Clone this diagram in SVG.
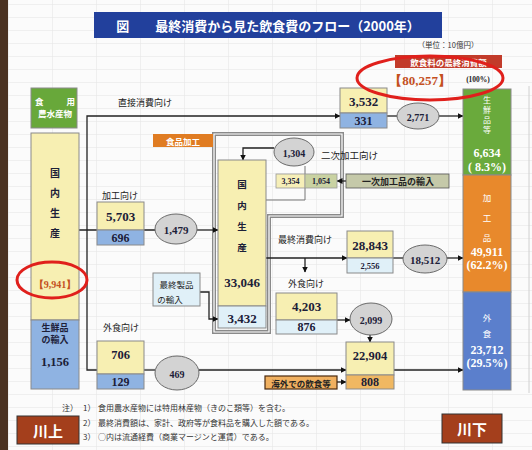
<svg xmlns="http://www.w3.org/2000/svg" width="532" height="450" viewBox="0 0 532 450">
<style>
.jp{font-family:"Noto Sans CJK JP","Noto Sans",sans-serif;}
.num{font-family:"Liberation Serif","DejaVu Serif",serif;font-weight:bold;}
.c{text-anchor:middle;dominant-baseline:central;}
.box{stroke:#8a8a8a;stroke-width:1;}
.yel{fill:#f7efb2;}
.blu{fill:#8fb3e2;}
.lbl{fill:#e0f0f8;}
.ell{fill:#d3d3d3;stroke:#6a6a6a;stroke-width:1;}
.ln{fill:none;stroke:#222;stroke-width:1.3;}
.arr{marker-end:url(#ah);}
.dk{fill:#1c2038;}
.wh{fill:#ffffff;}
</style>
<defs>
<marker id="ah" markerWidth="6" markerHeight="6" refX="5.5" refY="3" orient="auto" markerUnits="userSpaceOnUse">
<path d="M0,0 L6,3 L0,6 z" fill="#111"/>
</marker>
<pattern id="grid" width="44" height="13" patternUnits="userSpaceOnUse" x="8" y="4">
<path d="M0,0 H44 M0,0 V13" fill="none" stroke="#e3e3e3" stroke-width="1"/>
</pattern>
</defs>

<rect width="532" height="450" fill="#fbfbfb"/>
<rect x="8" width="524" height="450" fill="url(#grid)"/>
<rect x="0" y="0" width="8" height="450" fill="#4a3222"/>
<line x1="529" y1="86" x2="529" y2="393" stroke="#d0d0d0" stroke-width="1"/>

<g id="title">
<rect x="94" y="12" width="348" height="26" fill="#22409c"/>
<text x="268" y="25" class="jp c" font-size="13" font-weight="bold" fill="#fff">図　　最終消費から見た飲食費のフロー（2000年）</text>
</g>
<g id="unit"><text x="448" y="44" class="jp c" font-size="7.5" fill="#333">（単位：10億円）</text></g>

<!-- processing frame -->
<g id="frame">
<path d="M214,134 L342,134 L342,216 L269,216 L269,332 L214,332 Z" fill="none" stroke="#8a8a8a" stroke-width="4"/>
<path d="M214,134 L342,134 L342,216 L269,216 L269,332 L214,332 Z" fill="none" stroke="#ffffff" stroke-width="1.2"/>
</g>

<!-- connectors -->
<g id="connectors">
<path class="ln arr" d="M97,370 L87,370 L87,116 L340,116"/>
<path class="ln" d="M387,116 L397,116"/>
<path class="ln arr" d="M439,116 L463,116"/>
<path class="ln" d="M79,230 L97,230 M144,230 L155,230"/>
<path class="ln arr" d="M197,230 L218,230"/>
<path fill="none" stroke="#777" stroke-width="1" d="M305,166 L305,200 L266,200"/>
<path class="ln arr" d="M274,148 L243,148 L243,160"/>
<path class="ln arr" d="M350,181 L337,181"/>
<path class="ln arr" d="M266,258 L347,258"/>
<path class="ln" d="M393,258 L403,258"/>
<path class="ln arr" d="M447,258 L463,258"/>
<path class="ln arr" d="M305,258 L305,272"/>
<path class="ln arr" d="M200,292 L209,292 L209,319 L218,319"/>
<path class="ln arr" d="M337,320 L350,320"/>
<path class="ln arr" d="M370,335 L370,342"/>
<path class="ln arr" d="M394,370 L463,370"/>
<path class="ln" d="M144,370 L155,370"/>
<path class="ln arr" d="M199,370 L346,370"/>
<path class="ln arr" d="M337,382 L346,382"/>
</g>

<!-- left column -->
<g id="n-food">
<rect x="31" y="88" width="46" height="40" fill="#68a83a" class="box"/>
<text x="35" y="101" class="jp" font-size="8.5" font-weight="bold" fill="#fff" dominant-baseline="central">食</text>
<text x="75" y="101" class="jp" font-size="8.5" font-weight="bold" fill="#fff" dominant-baseline="central" text-anchor="end">用</text>
<text x="55" y="113" class="jp c" font-size="8.5" font-weight="bold" fill="#fff">農水産物</text>
</g>
<g id="n-domestic">
<rect x="31" y="133" width="48" height="187" class="yel box"/>
<text x="55" y="172" class="jp c dk" font-size="10" font-weight="bold">国</text>
<text x="55" y="192" class="jp c dk" font-size="10" font-weight="bold">内</text>
<text x="55" y="212" class="jp c dk" font-size="10" font-weight="bold">生</text>
<text x="55" y="232" class="jp c dk" font-size="10" font-weight="bold">産</text>
<text x="55" y="284" class="num c" font-size="10" fill="#c4501e">【9,941】</text>
</g>
<g id="n-freshimport">
<rect x="31" y="320" width="48" height="69" class="blu box"/>
<text x="55" y="327" class="jp c dk" font-size="9" font-weight="bold">生鮮品</text>
<text x="55" y="339" class="jp c dk" font-size="9" font-weight="bold">の輸入</text>
<text x="55" y="362" class="num c dk" font-size="12.5">1,156</text>
</g>
<g id="n-upstream">
<rect x="17" y="416" width="62" height="28" fill="#a43f1c" stroke="#333" stroke-width="1"/>
<text x="48" y="430" class="jp c" font-size="15" font-weight="bold" fill="#fff">川上</text>
</g>

<!-- direct -->
<g id="n-direct">
<text x="145" y="102" class="jp c" font-size="9" fill="#222">直接消費向け</text>
<rect x="340" y="88" width="47" height="25" class="yel box"/>
<rect x="340" y="113" width="47" height="15" class="blu box"/>
<text x="363.5" y="101" class="num c dk" font-size="13">3,532</text>
<text x="363.5" y="121" class="num c dk" font-size="12">331</text>
</g>
<g id="e-2771"><ellipse cx="418" cy="116" rx="21" ry="13" class="ell"/><text x="418" y="117" class="num c dk" font-size="10">2,771</text></g>

<!-- processing branch -->
<g id="n-proc">
<text x="120" y="195" class="jp c" font-size="9" fill="#222">加工向け</text>
<rect x="97" y="202" width="47" height="28" class="yel box"/>
<rect x="97" y="230" width="47" height="15" class="blu box"/>
<text x="120.5" y="216" class="num c dk" font-size="13">5,703</text>
<text x="120.5" y="238" class="num c dk" font-size="12">696</text>
</g>
<g id="e-1479"><ellipse cx="176" cy="229" rx="21" ry="15" class="ell"/><text x="176" y="230" class="num c dk" font-size="11">1,479</text></g>

<g id="n-foodproc-label">
<rect x="153" y="134" width="60" height="13" fill="#e07c22"/>
<text x="183" y="140.5" class="jp c" font-size="8.5" font-weight="bold" fill="#fff">食品加工</text>
</g>
<g id="n-proc-domestic">
<rect x="218" y="160" width="48" height="146" class="yel box"/>
<rect x="218" y="306" width="48" height="22" class="lbl box"/>
<text x="242" y="184" class="jp c dk" font-size="9.5" font-weight="bold">国</text>
<text x="242" y="205" class="jp c dk" font-size="9.5" font-weight="bold">内</text>
<text x="242" y="226" class="jp c dk" font-size="9.5" font-weight="bold">生</text>
<text x="242" y="247" class="jp c dk" font-size="9.5" font-weight="bold">産</text>
<text x="242" y="282" class="num c dk" font-size="13">33,046</text>
<text x="242" y="318" class="num c dk" font-size="13">3,432</text>
</g>
<g id="n-finalimport">
<rect x="153" y="273" width="47" height="33" class="lbl box"/>
<text x="176.5" y="284" class="jp c" font-size="8.5" fill="#222">最終製品</text>
<text x="170" y="299" class="jp c" font-size="8.5" fill="#222">の輸入</text>
</g>
<g id="e-1304"><ellipse cx="294" cy="152" rx="20" ry="14" class="ell"/><text x="294" y="153" class="num c dk" font-size="10">1,304</text></g>
<g id="n-secondary">
<text x="321" y="155" class="jp" font-size="9.5" fill="#222" dominant-baseline="central">二次加工向け</text>
<rect x="276" y="174" width="29" height="14" fill="#f6efb8" stroke="#999" stroke-width="0.8"/>
<rect x="305" y="174" width="32" height="14" fill="#c9d2a2" stroke="#999" stroke-width="0.8"/>
<text x="290.5" y="181" class="num c dk" font-size="8">3,354</text>
<text x="321" y="181" class="num c dk" font-size="8">1,054</text>
</g>
<g id="n-primaryimport">
<rect x="346" y="174" width="103" height="14" fill="#c5c9a9" stroke="#555" stroke-width="0.8"/>
<text x="398" y="181" class="jp c" font-size="9" font-weight="bold" fill="#222">一次加工品の輸入</text>
</g>

<!-- final consumption branch -->
<g id="n-final">
<text x="305" y="239" class="jp c" font-size="9" fill="#222">最終消費向け</text>
<rect x="347" y="231" width="46" height="27" class="yel box"/>
<rect x="347" y="258" width="46" height="15" class="lbl box"/>
<text x="370" y="245" class="num c dk" font-size="13">28,843</text>
<text x="370" y="266" class="num c dk" font-size="8.5">2,556</text>
</g>
<g id="e-18512"><ellipse cx="425" cy="259" rx="22" ry="14" class="ell"/><text x="425" y="260" class="num c dk" font-size="11">18,512</text></g>

<g id="n-dining2">
<text x="306" y="283" class="jp c" font-size="9" fill="#222">外食向け</text>
<rect x="276" y="293" width="61" height="27" class="yel box"/>
<rect x="276" y="320" width="61" height="14" class="lbl box"/>
<text x="306.5" y="306" class="num c dk" font-size="13">4,203</text>
<text x="306.5" y="327" class="num c dk" font-size="12">876</text>
</g>
<g id="e-2099"><ellipse cx="371" cy="319" rx="21" ry="16" class="ell"/><text x="371" y="320" class="num c dk" font-size="10">2,099</text></g>

<!-- dining branch -->
<g id="n-dining">
<text x="121" y="327" class="jp c" font-size="9" fill="#222">外食向け</text>
<rect x="97" y="341" width="47" height="33" class="yel box"/>
<rect x="97" y="374" width="47" height="15" class="blu box"/>
<text x="120.5" y="355" class="num c dk" font-size="12.5">706</text>
<text x="120.5" y="382" class="num c dk" font-size="12">129</text>
</g>
<g id="e-469"><ellipse cx="177" cy="373" rx="22" ry="17" class="ell"/><text x="177" y="374" class="num c dk" font-size="10">469</text></g>
<g id="n-22904">
<rect x="346" y="342" width="48" height="33" class="yel box"/>
<rect x="346" y="375" width="48" height="14" fill="#f0b862" class="box"/>
<text x="370" y="356" class="num c dk" font-size="12.5">22,904</text>
<text x="370" y="382" class="num c dk" font-size="12">808</text>
</g>
<g id="n-overseas">
<rect x="265" y="376" width="72" height="13" fill="#f0b060" stroke="#4a2a10" stroke-width="1.2"/>
<text x="301" y="382.5" class="jp c" font-size="8.5" font-weight="bold" fill="#222">海外での飲食等</text>
</g>

<!-- right column -->
<g id="n-total">
<rect x="395" y="55" width="107" height="13" fill="#c23b2a"/>
<text x="448.5" y="61.5" class="jp c" font-size="8.5" font-weight="bold" fill="#fff">飲食料の最終消費額</text>
<text x="420" y="80" class="num c" font-size="13" fill="#c4501e">【80,257】</text>
<text x="478" y="79" class="num c" font-size="7.5" fill="#222">(100%)</text>
</g>
<g id="n-fresh">
<rect x="463" y="89" width="48" height="86" fill="#6aaa3c" class="box"/>
<text x="487" y="99" class="jp c wh" font-size="8">生</text>
<text x="487" y="109" class="jp c wh" font-size="8">鮮</text>
<text x="487" y="119" class="jp c wh" font-size="8">品</text>
<text x="487" y="129" class="jp c wh" font-size="8">等</text>
<text x="487" y="153" class="num c wh" font-size="12">6,634</text>
<text x="487" y="167" class="num c wh" font-size="12">( 8.3%)</text>
</g>
<g id="n-processed">
<rect x="463" y="175" width="48" height="117" fill="#e8892c" class="box"/>
<text x="487" y="197" class="jp c wh" font-size="8.5">加</text>
<text x="487" y="217" class="jp c wh" font-size="8.5">工</text>
<text x="487" y="237" class="jp c wh" font-size="8.5">品</text>
<text x="487" y="252" class="num c wh" font-size="12">49,911</text>
<text x="487" y="265" class="num c wh" font-size="12">(62.2%)</text>
</g>
<g id="n-eatout">
<rect x="463" y="292" width="48" height="98" fill="#5b7fcc" class="box"/>
<text x="487" y="317" class="jp c wh" font-size="8.5">外</text>
<text x="487" y="333" class="jp c wh" font-size="8.5">食</text>
<text x="487" y="350" class="num c wh" font-size="12">23,712</text>
<text x="487" y="363" class="num c wh" font-size="12">(29.5%)</text>
</g>
<g id="n-downstream">
<rect x="442" y="414" width="60" height="29" fill="#a43f1c" stroke="#333" stroke-width="1"/>
<text x="472" y="428.5" class="jp c" font-size="15" font-weight="bold" fill="#fff">川下</text>
</g>

<!-- notes -->
<g id="notes" class="jp" font-size="8" fill="#333">
<text x="62" y="407" dominant-baseline="central">注）</text>
<text x="83" y="407" dominant-baseline="central">1）</text>
<text x="98" y="407" dominant-baseline="central">食用農水産物には特用林産物（きのこ類等）を含む。</text>
<text x="83" y="422" dominant-baseline="central">2）</text>
<text x="98" y="422" dominant-baseline="central">最終消費額は、家計、政府等が食料品を購入した額である。</text>
<text x="83" y="436" dominant-baseline="central">3）</text>
<text x="98" y="436" dominant-baseline="central">○内は流通経費（商業マージンと運賃）である。</text>
</g>

<!-- red highlight ellipses -->
<g id="highlights" fill="none" stroke="#e0201c" stroke-width="3">
<ellipse cx="430" cy="78" rx="73" ry="22"/>
<ellipse cx="52" cy="280" rx="35" ry="18"/>
</g>
</svg>
